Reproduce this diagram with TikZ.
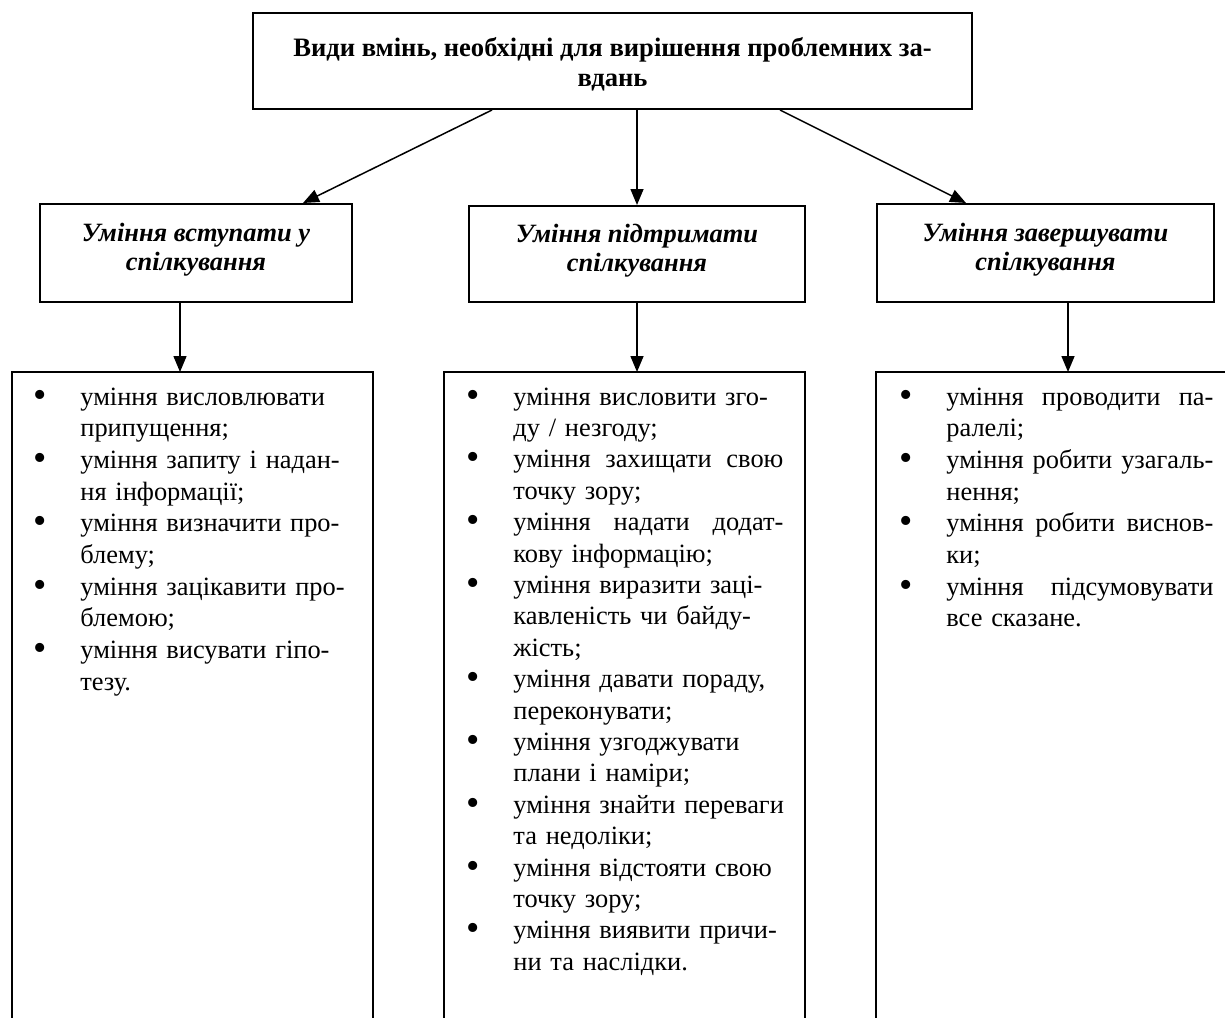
\documentclass[tikz,border=0pt]{standalone}
\usepackage{fontspec}
\setmainfont{Liberation Serif}
\usetikzlibrary{arrows.meta,calc}
\tikzset{
  boxline/.style={line width=1pt},
  titlebox/.style={draw, line width=1pt, inner sep=0pt, align=center,
    font=\bfseries\fontsize{13.3pt}{15pt}\selectfont},
  headbox/.style={draw, line width=1pt, inner sep=0pt, align=center,
    font=\bfseries\itshape\fontsize{13.2pt}{14.7pt}\selectfont},
  listbox/.style={inner sep=0pt, anchor=north west},
  listtext/.style={inner sep=0pt, anchor=base west, align=left, text width=150pt},
  arrowline/.style={line width=0.75pt, -{Triangle[length=8pt,width=6.5pt]}}
}
\newcommand{\bl}{\leavevmode\llap{\makebox[23.5pt][l]{\raisebox{-1pt}{\fontsize{19pt}{19pt}\selectfont •}}}}
\newcommand{\js}[2][135pt]{\hbox to #1{\spaceskip=0.25em plus 1fil\relax #2}}
\begin{document}
\begin{tikzpicture}[x=0.5pt,y=-0.5pt]
\useasboundingbox (0,0) rectangle (1225,1017);

% title
\node[titlebox, anchor=north west, minimum width=359.5pt, minimum height=48pt] (top) at (252,12)
  {\parbox{340pt}{\vspace*{3pt}\centering Види вмінь, необхідні для вирішення проблемних за-\\вдань}};

% headings
\node[headbox, anchor=north west, minimum width=156pt, minimum height=49pt] (h1) at (39,203)
  {\parbox{150pt}{\centering Уміння вступати у\\спілкування\par\vspace*{3.5pt}}};
\node[headbox, anchor=north west, minimum width=168pt, minimum height=48pt] (h2) at (468,205)
  {\parbox{160pt}{\centering Уміння підтримати\\спілкування\par\vspace*{3.5pt}}};
\node[headbox, anchor=north west, minimum width=168.5pt, minimum height=49pt] (h3) at (876,203)
  {\parbox{160pt}{\centering Уміння завершувати\\спілкування\par\vspace*{3.5pt}}};

% list boxes (open at the bottom / right, running off the page)
\node[listbox, minimum width=180pt, minimum height=322.5pt] (b1) at (12,372) {};
\node[listbox, minimum width=180pt, minimum height=322.5pt] (b2) at (444,372) {};
\node[listbox, minimum width=174.5pt, minimum height=322.5pt] (b3) at (876,372) {};
\draw[boxline] (b1.south west) -- (b1.north west) -- (b1.north east) -- (b1.south east);
\draw[boxline] (b2.south west) -- (b2.north west) -- (b2.north east) -- (b2.south east);
\draw[boxline] (b3.south west) -- (b3.north west) -- (b3.north east);

% list texts
\node[listtext, font=\fontsize{13.2pt}{15.85pt}\selectfont] (t1) at (80,405) {%
\bl уміння висловлювати\\
припущення;\\
\bl уміння запиту і надан-\\
ня інформації;\\
\bl уміння визначити про-\\
блему;\\
\bl уміння зацікавити про-\\
блемою;\\
\bl уміння висувати гіпо-\\
тезу.};

\node[listtext, font=\fontsize{13.2pt}{15.7pt}\selectfont] (t2) at (513,405) {%
\bl уміння висловити зго-\\
ду / незгоду;\\
\bl \js{уміння захищати свою}\\
точку зору;\\
\bl \js{уміння надати додат-}\\
кову інформацію;\\
\bl уміння виразити заці-\\
кавленість чи байду-\\
жість;\\
\bl уміння давати пораду,\\
переконувати;\\
\bl уміння узгоджувати\\
плани і наміри;\\
\bl уміння знайти переваги\\
та недоліки;\\
\bl уміння відстояти свою\\
точку зору;\\
\bl уміння виявити причи-\\
ни та наслідки.};

\node[listtext, font=\fontsize{13.2pt}{15.85pt}\selectfont] (t3) at (946,405) {%
\bl \js[133.5pt]{уміння проводити па-}\\
ралелі;\\
\bl \js[133.5pt]{уміння робити узагаль-}\\
нення;\\
\bl \js[133.5pt]{уміння робити виснов-}\\
ки;\\
\bl \js[133.5pt]{уміння підсумовувати}\\
все сказане.};

% connectors
\draw[arrowline] ($(top.south west)+(240,0)$) -- ($(h1.north)+(107,0)$);
\draw[arrowline] (h2.north |- top.south) -- (h2.north);
\draw[arrowline] ($(top.south west)+(528,0)$) -- ($(h3.north)+(-79.5,0)$);

\coordinate (d1) at ($(h1.south west)+(141,0)$);
\coordinate (d3) at ($(h3.south west)+(192,0)$);
\draw[arrowline] (d1) -- (d1 |- b1.north);
\draw[arrowline] (h2.south) -- (h2.south |- b2.north);
\draw[arrowline] (d3) -- (d3 |- b3.north);
\end{tikzpicture}
\end{document}
